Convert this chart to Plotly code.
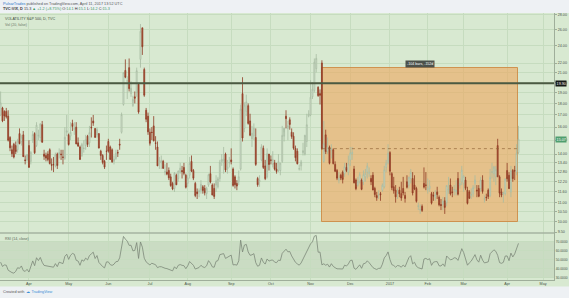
import math
import numpy as np
import pandas as pd
import plotly.graph_objects as go

# ---------------- data (daily VIX bars, 2016-03-10 .. 2017-04-11) ----------------
opens = [
    17.0, 17.6, 17.3, 17.3, 16.9, 15.2, 14.3, 14.7, 14.6, 14.3, 15.5, 14.9, 15.4, 13.6, 13.6,
    14.6, 13.5, 15.0, 15.5, 14.6, 15.3, 15.2, 16.2, 14.0, 13.9, 14.0, 14.3, 13.3, 13.3, 13.2, 14.0, 14.0, 14.0, 13.8, 13.7, 15.6,
    15.4, 15.3, 16.3, 15.8, 16.0, 14.8, 14.5, 13.9, 14.4, 14.6, 15.3, 14.8, 16.0, 16.5, 15.9, 15.4, 15.5, 14.2, 13.9, 13.5, 14.2,
    14.9, 14.5, 14.3, 13.5, 13.7, 14.1, 14.7, 15.6, 17.9, 21.2, 20.1, 21.5, 18.9, 17.8, 18.6, 19.0, 19.8, 22.4, 26.2, 21.3, 17.4, 16.9,
    15.6, 15.6, 16.1, 14.8, 14.5, 13.4, 13.4, 13.5, 12.8, 12.8, 12.9, 12.5, 12.1, 11.8, 12.6, 12.4, 12.8, 12.9, 13.1, 12.6,
    12.1, 12.6, 13.5, 12.9, 12.1, 11.6, 11.6, 11.7, 11.9, 11.8, 11.5, 12.0, 12.7, 12.0, 11.8, 12.0, 11.9, 12.4, 13.5, 13.4, 14.0, 13.0, 13.4,
    13.6, 13.0, 12.5, 12.1, 12.2, 13.0, 18.9, 15.9, 17.3, 17.8, 16.5, 15.1, 15.3, 15.2, 12.4, 12.2, 13.6, 14.4, 13.2, 12.5, 14.0,
    13.6, 13.3, 13.4, 13.0, 12.9, 12.9, 13.5, 15.3, 16.9, 15.9, 16.6, 15.6, 15.3, 14.4, 14.2, 13.0, 13.2, 14.1, 14.0, 14.9, 16.9,
    17.0, 18.6, 19.2, 21.4, 19.5, 18.9, 22.0, 13.5, 15.4, 14.2, 14.5, 14.3, 14.3, 13.3, 12.9, 12.3, 12.6, 12.8, 12.7, 13.1, 12.8,
    13.6, 14.0, 13.0, 12.3, 12.0, 12.2, 12.3, 12.2, 12.5, 12.8, 12.7, 12.4, 12.6, 11.8, 11.4, 11.4, 11.5, 11.7, 11.9, 13.1, 13.4,
    14.1, 12.7, 11.9, 11.7, 11.5, 11.7, 11.5, 11.8, 11.4, 12.2, 12.0, 12.4, 12.4, 12.0, 11.8, 10.8, 10.6, 10.8, 12.1, 12.0,
    11.7, 11.8, 11.5, 11.4, 11.3, 11.6, 11.3, 10.9, 10.9, 11.1, 11.0, 11.7, 12.0, 11.6, 11.7, 11.6, 12.4, 12.0, 12.2,
    12.1, 12.3, 11.7, 11.6, 11.4, 11.5, 12.1, 11.7, 11.8, 11.8, 12.3, 11.2, 11.3, 11.7, 11.4, 12.8, 12.7, 12.5, 14.6, 12.5, 11.6, 11.5, 11.5,
    12.9, 12.6, 11.6, 12.9, 12.9, 12.8, 14.1,
]
highs = [
    19.1, 17.7, 17.4, 17.6, 17.4, 15.3, 14.6, 14.8, 14.9, 15.1, 15.9, 15.4, 15.7, 13.9, 14.0,
    15.0, 14.2, 15.7, 15.6, 16.4, 15.8, 16.3, 16.5, 14.3, 14.1, 14.2, 14.4, 13.7, 13.8, 14.1, 14.1, 14.4, 14.3, 14.3, 16.0, 17.0,
    15.5, 16.4, 16.6, 16.4, 16.4, 15.2, 14.6, 14.8, 15.0, 15.4, 15.4, 16.1, 16.8, 17.0, 15.9, 16.0, 15.5, 14.3, 14.0, 13.6, 14.6,
    15.1, 14.6, 14.4, 13.9, 14.3, 14.3, 15.1, 17.2, 21.0, 22.4, 20.6, 22.5, 20.1, 18.7, 19.1, 21.5, 19.9, 26.7, 26.2, 21.5, 17.6, 17.2,
    15.9, 16.0, 16.9, 15.3, 14.9, 13.8, 13.9, 13.6, 13.3, 13.4, 13.1, 12.7, 12.2, 12.8, 12.7, 12.9, 13.4, 13.2, 13.4, 12.7,
    12.6, 13.8, 13.9, 13.0, 12.2, 11.8, 11.8, 12.3, 12.0, 12.0, 11.9, 12.7, 13.2, 12.1, 12.1, 12.6, 12.5, 13.6, 14.0, 14.5, 14.1, 13.6, 13.8,
    14.4, 13.1, 12.6, 12.3, 12.9, 17.9, 20.5, 18.1, 18.8, 18.0, 17.1, 16.1, 16.3, 15.9, 12.5, 12.6, 14.7, 14.6, 13.6, 14.4, 14.0,
    13.9, 14.2, 13.6, 13.4, 14.0, 13.4, 16.1, 15.6, 17.4, 16.5, 16.8, 15.9, 15.6, 14.6, 14.4, 13.3, 13.6, 14.8, 15.4, 17.1, 17.4,
    20.2, 20.0, 22.5, 23.0, 19.6, 19.3, 22.3, 16.5, 15.8, 15.2, 14.6, 14.7, 14.4, 13.5, 13.0, 12.8, 12.7, 12.9, 13.4, 13.4, 13.9,
    14.5, 14.5, 13.2, 12.4, 12.5, 12.8, 12.4, 12.9, 13.0, 13.4, 13.1, 12.6, 12.8, 11.9, 11.6, 11.7, 11.6, 12.1, 13.2, 13.6, 14.7,
    14.2, 12.8, 12.5, 12.0, 11.8, 11.9, 12.2, 12.5, 11.6, 12.6, 12.5, 13.0, 12.8, 12.6, 11.9, 11.0, 10.9, 10.9, 13.1, 12.8,
    12.4, 12.3, 11.6, 11.6, 11.7, 11.9, 11.4, 11.2, 11.3, 11.3, 12.0, 12.5, 12.4, 11.9, 12.0, 12.3, 12.8, 12.4, 13.2,
    12.6, 12.5, 11.9, 11.7, 11.8, 12.0, 12.6, 12.0, 12.0, 12.5, 12.6, 11.4, 11.5, 11.8, 13.0, 13.4, 13.2, 13.2, 15.1, 12.6, 11.8, 11.6, 12.4,
    13.4, 12.8, 13.2, 13.0, 13.2, 14.7, 16.1,
]
lows = [
    16.9, 16.4, 16.5, 16.7, 14.9, 14.2, 13.8, 13.7, 14.0, 14.1, 14.7, 14.6, 13.8, 13.3, 13.5,
    13.1, 13.3, 14.8, 14.0, 14.5, 15.0, 14.9, 14.8, 13.6, 13.5, 13.5, 13.3, 12.9, 12.8, 13.1, 13.0, 13.7, 13.6, 13.3, 13.6, 15.3,
    14.6, 15.0, 15.7, 15.4, 14.7, 14.5, 13.6, 13.8, 14.1, 14.3, 14.5, 14.5, 15.2, 16.1, 15.2, 15.2, 14.4, 13.6, 13.3, 13.0, 13.6,
    14.1, 13.6, 13.4, 13.3, 13.6, 13.8, 14.3, 15.5, 17.8, 20.4, 18.4, 19.1, 18.6, 17.7, 18.0, 18.6, 17.1, 21.5, 22.9, 18.6, 16.4, 15.4,
    14.6, 15.0, 14.9, 14.3, 13.2, 13.0, 13.0, 13.0, 12.6, 12.6, 12.3, 11.9, 11.7, 11.6, 12.0, 12.2, 12.7, 12.4, 12.6, 11.8,
    11.9, 12.4, 12.8, 12.3, 11.3, 11.2, 11.3, 11.5, 11.5, 11.4, 11.2, 11.9, 12.1, 11.4, 11.2, 11.6, 11.8, 12.2, 13.2, 12.7, 12.8, 12.7, 13.1,
    13.3, 11.9, 11.8, 11.7, 12.0, 12.9, 14.9, 15.6, 16.9, 16.2, 15.3, 14.5, 15.0, 13.2, 11.9, 11.9, 13.5, 13.0, 12.3, 12.4, 12.9,
    13.3, 13.1, 12.9, 12.7, 12.8, 12.6, 13.4, 14.9, 15.9, 15.0, 15.8, 15.1, 14.3, 13.5, 13.3, 12.9, 12.9, 13.9, 13.9, 14.5, 16.8,
    16.9, 18.4, 19.0, 21.0, 18.6, 17.9, 14.3, 13.4, 14.0, 14.0, 13.3, 13.7, 13.3, 12.8, 12.3, 12.1, 12.3, 12.1, 12.5, 12.8, 12.6,
    13.2, 13.6, 12.1, 11.7, 11.9, 12.1, 11.7, 12.0, 12.2, 12.4, 12.5, 12.0, 11.7, 11.3, 11.1, 11.2, 11.1, 11.6, 11.8, 12.8, 13.3,
    12.6, 11.7, 11.5, 11.0, 11.2, 11.3, 11.1, 11.4, 11.0, 11.8, 11.8, 12.1, 11.4, 11.7, 11.0, 10.6, 10.4, 10.5, 11.8, 11.7,
    11.5, 11.6, 10.9, 11.1, 11.1, 11.2, 10.8, 10.6, 10.6, 10.4, 10.8, 11.5, 11.4, 11.3, 11.4, 11.4, 11.4, 11.8, 12.0,
    11.6, 11.7, 10.9, 11.2, 11.2, 11.3, 11.8, 11.3, 11.3, 11.6, 11.5, 11.0, 11.1, 11.2, 11.3, 12.4, 12.2, 12.0, 12.5, 11.3, 11.3, 11.0, 11.4,
    12.2, 11.8, 11.3, 12.2, 12.3, 12.6, 14.0,
]
closes = [
    18.05, 16.50, 16.92, 16.84, 14.99, 14.44, 14.02, 13.79, 14.17, 14.94, 14.74, 15.24, 13.82, 13.56, 13.95,
    13.10, 14.12, 15.42, 14.09, 16.16, 15.36, 16.26, 14.85, 13.84, 13.72, 13.62, 13.35, 13.24, 13.28, 13.95, 13.22, 14.08, 13.96, 13.77, 15.22, 15.70,
    14.68, 15.60, 16.05, 15.91, 14.72, 14.57, 13.63, 14.69, 14.41, 15.04, 14.68, 15.57, 15.95, 16.33, 15.20, 15.82, 14.42, 13.90, 13.43, 13.12, 14.19,
    14.20, 13.63, 13.47, 13.65, 14.05, 14.08, 14.64, 17.03, 20.97, 20.50, 20.14, 19.37, 19.41, 18.37, 18.48, 21.17, 17.25, 25.76, 23.85, 18.75, 16.64, 15.63,
    14.77, 15.58, 14.96, 14.76, 13.20, 13.54, 13.55, 13.04, 12.82, 12.67, 12.44, 11.97, 11.77, 12.74, 12.02, 12.87, 13.05, 12.83, 12.72, 11.87,
    12.44, 13.37, 12.86, 12.42, 11.39, 11.50, 11.66, 12.05, 11.68, 11.55, 11.81, 12.64, 12.19, 11.43, 11.34, 12.27, 12.38, 13.45, 13.63, 13.65, 12.94, 13.12, 13.42,
    13.48, 11.98, 12.02, 11.94, 12.51, 17.50, 15.16, 17.85, 18.14, 16.30, 15.37, 15.53, 15.92, 13.30, 12.02, 12.29, 14.50, 13.10, 12.39, 14.02, 13.29,
    13.57, 13.63, 12.99, 12.84, 13.48, 13.38, 15.36, 15.91, 16.69, 16.12, 16.21, 15.28, 14.41, 13.75, 13.34, 13.02, 13.46, 14.24, 15.36, 16.19, 17.06,
    18.56, 19.32, 22.08, 22.51, 18.71, 18.74, 14.38, 14.74, 14.17, 14.48, 13.37, 14.36, 13.35, 12.85, 12.42, 12.41, 12.43, 12.34, 13.15, 12.90, 13.33,
    14.07, 14.12, 12.14, 11.79, 12.22, 12.64, 11.75, 12.64, 12.72, 13.19, 12.79, 12.20, 11.71, 11.45, 11.27, 11.43, 11.44, 11.99, 12.95, 13.37, 14.04,
    12.85, 11.85, 11.67, 11.32, 11.56, 11.49, 11.26, 11.54, 11.23, 11.87, 12.48, 12.78, 11.54, 11.77, 11.07, 10.81, 10.63, 10.58, 11.88, 11.99,
    11.81, 11.93, 10.97, 11.37, 11.45, 11.45, 10.88, 10.85, 11.07, 10.74, 11.97, 11.76, 11.49, 11.57, 11.74, 11.71, 11.47, 12.09, 12.92,
    12.54, 11.81, 10.96, 11.24, 11.45, 11.86, 12.30, 11.66, 11.35, 12.30, 11.63, 11.21, 11.28, 11.34, 12.47, 12.81, 13.12, 12.96, 12.50, 11.53, 11.42, 11.54, 12.37,
    12.38, 11.79, 12.89, 12.39, 12.87, 14.05, 15.07,
]
# closes before the visible window (RSI warm-up, Feb 1 .. Mar 9 2016)
pre_closes = [19.98, 21.98, 21.65, 21.84, 23.38, 26.00, 26.54, 26.29, 28.14, 25.40, 24.11, 22.31, 21.64,
              20.53, 19.38, 20.98, 19.72, 19.11, 19.81, 20.55, 17.70, 17.09, 16.70, 16.86, 17.35, 18.67, 17.50]

holidays = ["2016-03-25", "2016-05-30", "2016-07-04", "2016-09-05", "2016-11-24", "2016-12-26",
            "2017-01-02", "2017-01-16", "2017-02-20", "2017-04-14", "2017-05-29"]

price_ticks = [28.0, 26.0, 24.0, 22.0, 21.0, 20.0, 19.0, 18.0, 17.0, 16.0, 15.0, 14.0,
               13.4, 12.8, 12.2, 11.6, 11.0, 10.5, 10.0, 9.5]
rsi_ticks = [30, 40, 50, 60, 70]

h_line_level = 19.9
box_start, box_end = "2016-11-09", "2017-04-11"
box_top, box_bottom, box_mid = 21.5, 10.0, 14.38

# ---------------- derived ----------------
n = len(closes)
assert len(opens) == n and len(highs) == n and len(lows) == n, (len(opens), len(highs), len(lows), n)
days = pd.bdate_range("2016-03-10", "2017-05-31")
days = days[~days.isin(pd.to_datetime(holidays))]
assert days[n - 1] == pd.Timestamp("2017-04-11"), days[n - 1]
idx = list(range(n))

tick_idx, tick_txt = [], []
for i in range(1, len(days)):
    if days[i].month != days[i - 1].month:
        tick_idx.append(i)
        tick_txt.append(str(days[i].year) if days[i].month == 1 else days[i].strftime("%b"))

# RSI(14) Wilder
full = np.array(pre_closes + closes, dtype=float)
d = np.diff(full)
g = np.clip(d, 0, None)
l = np.clip(-d, 0, None)
ag, al = g[:14].mean(), l[:14].mean()
rsi_full = {14: 100 - 100 / (1 + ag / al)}
for k in range(14, len(d)):
    ag = (ag * 13 + g[k]) / 14
    al = (al * 13 + l[k]) / 14
    rsi_full[k + 1] = 100 - 100 / (1 + ag / al)
rsi = [rsi_full[j + len(pre_closes)] for j in range(n)]

# ---------------- styling ----------------
W, H = 569, 298
ML, MR, MT, MB = 0, 15, 13, 18
PW, PH = W - ML - MR, H - MT - MB
GREEN_BG = "#d8e9d1"
GRID = "#c6dcbf"
SEP = "#9fae9a"
PAPER = "#eef1f4"
TXT = "#4a5448"
FONT = "Liberation Sans, Arial, sans-serif"
UP_FILL, UP_LINE = "#e8f0e3", "#a7bba1"
DN_FILL, DN_LINE = "#b24f34", "#8f3b25"

y_lo, y_hi = 9.46, 28.2
rsi_lo, rsi_hi = 27.2, 79.4
price_dom = [(280 - 233) / PH, 1.0]
rsi_dom = [0.0, (280 - 233) / PH]
x_range = [-0.32, 292.8]


def PX(x):
    return (x - ML) / PW


def PY(y):
    return (H - MB - y) / PH


def yfrac(v):
    return (math.log10(v) - math.log10(y_lo)) / (math.log10(y_hi) - math.log10(y_lo))


bx0 = days.get_loc(pd.Timestamp(box_start))
bx1 = days.get_loc(pd.Timestamp(box_end))

fig = go.Figure()
# date/price range box: a bar sits below the candlesticks and above the grid
fig.add_trace(go.Bar(
    x=[(bx0 + bx1) / 2], y=[box_top - box_bottom], base=[box_bottom], width=[bx1 - bx0],
    marker=dict(color="rgba(238,168,95,0.62)", line=dict(color="rgba(205,140,70,0.9)", width=1)),
    hoverinfo="skip", showlegend=False, xaxis="x", yaxis="y"))
fig.add_trace(go.Candlestick(
    x=idx, open=opens, high=highs, low=lows, close=closes,
    increasing=dict(fillcolor=UP_FILL, line=dict(color=UP_LINE, width=0.8)),
    decreasing=dict(fillcolor=DN_FILL, line=dict(color=DN_LINE, width=0.8)),
    whiskerwidth=0, hoverinfo="skip", showlegend=False, xaxis="x", yaxis="y"))
fig.add_trace(go.Scatter(
    x=idx, y=rsi, mode="lines", line=dict(color="#7c8878", width=0.8),
    hoverinfo="skip", showlegend=False, xaxis="x2", yaxis="y2"))

shapes = [
    dict(type="rect", xref="paper", yref="paper", x0=0, x1=W / PW, y0=PY(286.5), y1=PY(MT),
         fillcolor=GREEN_BG, line=dict(width=0), layer="below"),
    dict(type="rect", xref="paper", yref="y2", x0=0, x1=1, y0=30, y1=70,
         fillcolor="rgba(110,140,100,0.13)", line=dict(width=0), layer="below"),
    dict(type="line", xref="x", yref="y domain", x0=bx0, x1=bx1, y0=yfrac(box_mid), y1=yfrac(box_mid),
         line=dict(color="rgba(140,95,50,0.8)", width=0.8, dash="dot"), layer="above"),
    dict(type="line", xref="paper", yref="y domain", x0=0, x1=1, y0=yfrac(h_line_level), y1=yfrac(h_line_level),
         line=dict(color="#4b5a42", width=2), layer="above"),
    dict(type="line", xref="paper", yref="paper", x0=0, x1=1, y0=PY(233), y1=PY(233),
         line=dict(color="#a6b3a1", width=1.5), layer="above"),
]

small = dict(family=FONT, size=3.7, color=TXT)
ann = []


def text(x, y, t, size=3.7, color=TXT, xanchor="left", **kw):
    ann.append(dict(xref="paper", yref="paper", x=PX(x), y=PY(y), text=t, showarrow=False,
                    xanchor=xanchor, yanchor="middle", font=dict(family=FONT, size=size, color=color), **kw))


text(1, 3.5, '<span style="color:#2e74c9">PulsarTrades</span> published on TradingView.com, April 11, 2017 13:52 UTC',
     size=3.8, color="#555")
text(1, 9.3, '<b>TVC:VIX, D</b> 15.3 <span style="color:#3d9a5e">▲ +1.2 (+8.75%)</span> '
             'O:<span style="color:#3d9a5e">14.1</span> H:<span style="color:#3d9a5e">15.1</span> '
             'L:<span style="color:#3d9a5e">14.2</span> C:<span style="color:#3d9a5e">15.3</span>',
     size=3.8, color="#333")
text(3, 19, "VOLATILITY S&P 500, D, TVC", size=3.7, color="#3e4a3c")
text(3, 24.5, "Vol (20, false)", size=3.6, color="#6b7768")
text(3, 239, "RSI (14, close)", size=3.6, color="#5b6758")
text(1, 292, 'Created with  <span style="color:#3b8fd6">☁ TradingView</span>', size=3.8, color="#555")
text(420, 63.5, "-104 bars, -152d", size=3.6, color="white", xanchor="center", bgcolor="#4b514b", borderpad=1)

ann.append(dict(xref="paper", yref="y domain", x=PX(555), y=yfrac(h_line_level), text=f"{h_line_level:.2f}",
                showarrow=False, xanchor="left", yanchor="middle", bgcolor="#161916", borderpad=0.6,
                font=dict(family=FONT, size=3.7, color="white")))
ann.append(dict(xref="paper", yref="y domain", x=PX(555), y=yfrac(closes[-1]), text=f"{closes[-1]:.2f}",
                showarrow=False, xanchor="left", yanchor="middle", bgcolor="#4f9e6e", borderpad=0.6,
                font=dict(family=FONT, size=3.7, color="white")))

fig.update_layout(
    width=W, height=H, margin=dict(l=ML, r=MR, t=MT, b=MB),
    paper_bgcolor=PAPER, plot_bgcolor="rgba(0,0,0,0)",
    hovermode=False, showlegend=False, bargap=0,
    xaxis=dict(domain=[0, 1], anchor="y", range=x_range, tickvals=tick_idx, showticklabels=False,
               showgrid=True, gridcolor=GRID, gridwidth=1, zeroline=False, rangeslider=dict(visible=False),
               showline=False, ticks=""),
    yaxis=dict(domain=price_dom, anchor="x", side="right", type="log",
               range=[math.log10(y_lo), math.log10(y_hi)],
               tickvals=price_ticks, ticktext=[f"{v:.2f}" for v in price_ticks],
               tickfont=small, showgrid=True, gridcolor=GRID, gridwidth=1, zeroline=False,
               ticks="outside", ticklen=2, tickcolor=SEP, showline=True, linecolor=SEP, linewidth=1),
    xaxis2=dict(domain=[0, 1], anchor="y2", range=x_range, tickvals=tick_idx, ticktext=tick_txt,
                tickfont=small, showgrid=True, gridcolor=GRID, gridwidth=1, zeroline=False,
                showline=True, linecolor=SEP, linewidth=1, ticks="", ticklen=0),
    yaxis2=dict(domain=rsi_dom, anchor="x2", side="right", range=[rsi_lo, rsi_hi],
                tickvals=rsi_ticks, ticktext=[f"{v:.4f}" for v in rsi_ticks],
                tickfont=dict(family=FONT, size=3.3, color=TXT), showgrid=True, gridcolor=GRID,
                gridwidth=1, zeroline=False, ticks="", ticklen=0,
                showline=True, linecolor=SEP, linewidth=1),
    shapes=shapes, annotations=ann,
)

fig.write_html("out.html")
